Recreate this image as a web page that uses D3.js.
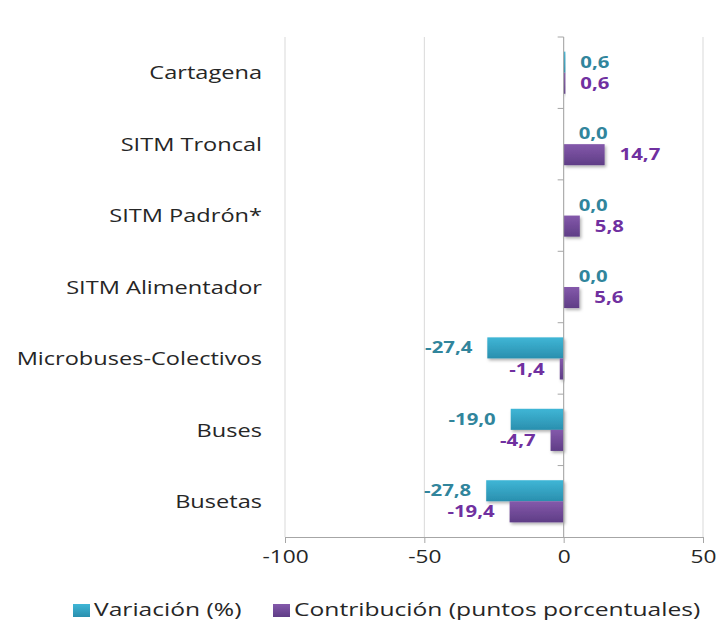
<!DOCTYPE html>
<html><head><meta charset="utf-8">
<script src="https://cdn.jsdelivr.net/npm/d3@7"></script>
<style>body{margin:0;background:#fff}svg{display:block}</style>
</head><body>
<svg id="c" width="719" height="620"></svg>
<script>
const categories = ["Cartagena","SITM Troncal","SITM Padrón*","SITM Alimentador","Microbuses-Colectivos","Buses ","Busetas"];
const variacion = [0.6, 0.0, 0.0, 0.0, -27.4, -19.0, -27.8];
const contribucion = [0.6, 14.7, 5.8, 5.6, -1.4, -4.7, -19.4];
const seriesNames = ["Variación (%)","Contribución (puntos porcentuales)"];
const xTicks = [-100,-50,0,50];

const svg = d3.select("#c");
const font = "'Open Sans', sans-serif";
const m = {l:285, r:16, t:37, b:83};
const W = 719, H = 620;
const x = d3.scaleLinear().domain([-100,50]).range([m.l, W-m.r]);
const y = d3.scaleBand().domain(categories).range([m.t, H-m.b]).paddingInner(0.41).paddingOuter(0.205);
const sub = d3.scaleBand().domain([0,1]).range([0, y.bandwidth()]);

// horizontally stretch text (wide face look of the original)
function stretch(sel, s){
  sel.each(function(){
    const w = this.getComputedTextLength();
    d3.select(this).attr("textLength", w*s).attr("lengthAdjust","spacingAndGlyphs");
  });
}

const defs = svg.append("defs");
const g1 = defs.append("linearGradient").attr("id","gc").attr("x1",0).attr("y1",0).attr("x2",0).attr("y2",1);
g1.append("stop").attr("offset","0").attr("stop-color","#3fb6d6");
g1.append("stop").attr("offset","1").attr("stop-color","#2a8fae");
const g2 = defs.append("linearGradient").attr("id","gp").attr("x1",0).attr("y1",0).attr("x2",0).attr("y2",1);
g2.append("stop").attr("offset","0").attr("stop-color","#8459ab");
g2.append("stop").attr("offset","1").attr("stop-color","#5f3d86");
const f = defs.append("filter").attr("id","sh").attr("x","-20%").attr("y","-20%").attr("width","150%").attr("height","160%");
f.append("feDropShadow").attr("dx",1.5).attr("dy",2).attr("stdDeviation",1.5).attr("flood-color","#000").attr("flood-opacity",0.3);

// gridlines
svg.append("g").selectAll("line").data(xTicks).join("line")
  .attr("x1",d=>x(d)).attr("x2",d=>x(d)).attr("y1",m.t).attr("y2",H-m.b)
  .attr("stroke","#d9d9d9").attr("stroke-width",1);

// bottom axis
const xa = svg.append("g").attr("transform",`translate(0,${H-m.b})`)
  .call(d3.axisBottom(x).tickValues(xTicks).tickSize(6).tickPadding(7).tickFormat(d=>d<0?"-"+Math.abs(d):d));
xa.select(".domain").attr("stroke","#a6a6a6");
xa.selectAll(".tick line").attr("stroke","#a6a6a6");
xa.selectAll("text").attr("font-family",font).attr("font-size",18).attr("fill","#262626")
  .attr("dy","0.71em").call(stretch,1.26);

const cols = ["url(#gc)","url(#gp)"];
const labCols = ["#31859c","#7030a0"];
const data = [variacion, contribucion];

data.forEach((vals,si)=>{
  svg.append("g").selectAll("rect").data(vals).join("rect")
    .attr("x",d=>x(Math.min(0,d))).attr("width",d=>Math.abs(x(d)-x(0)))
    .attr("y",(d,i)=>y(categories[i])+sub(si)).attr("height",sub.bandwidth())
    .attr("fill",cols[si]).attr("filter","url(#sh)");
});

// zero axis
const ya = svg.append("g").attr("transform",`translate(${x(0)},0)`);
ya.append("line").attr("x1",0).attr("x2",0).attr("y1",m.t).attr("y2",H-m.b).attr("stroke","#a6a6a6");
const bounds = categories.map((c,i)=>m.t + i*y.step());
ya.selectAll("line.t").data(bounds).join("line").attr("class","t")
  .attr("x1",-6).attr("x2",0).attr("y1",d=>d).attr("y2",d=>d).attr("stroke","#a6a6a6");

// labels
const fmt = v => (v<0?"-":"") + Math.abs(v).toFixed(1).replace(".",",");
data.forEach((vals,si)=>{
  svg.append("g").selectAll("text").data(vals).join("text")
    .attr("x",d=>d<0? x(d)-15 : x(d)+15)
    .attr("y",(d,i)=>y(categories[i])+sub(si)+sub.bandwidth()/2)
    .attr("dy","0.35em")
    .attr("text-anchor",d=>d<0?"end":"start")
    .attr("font-family",font).attr("font-weight","bold").attr("font-size",16)
    .attr("fill",labCols[si]).text(d=>fmt(d))
    .call(stretch,1.27);
});

// category labels
svg.append("g").selectAll("text").data(categories).join("text")
  .attr("x",262).attr("y",d=>y(d)+y.bandwidth()/2).attr("dy","0.35em")
  .attr("text-anchor","end").attr("font-family",font).attr("font-size",19).attr("fill","#262626")
  .text(d=>d).call(stretch,1.24);

// legend
const lg = svg.append("g").attr("transform","translate(0,610)");
const lx = [73, 273];
seriesNames.forEach((n,i)=>{
  lg.append("rect").attr("x",lx[i]).attr("y",-6).attr("width",17).attr("height",13).attr("fill",cols[i]);
  lg.append("text").attr("x",lx[i]+21).attr("y",0).attr("dy","0.35em").attr("font-family",font)
    .attr("font-size",18.5).attr("fill","#262626").text(n).call(stretch,1.33);
});
</script>
</body></html>
